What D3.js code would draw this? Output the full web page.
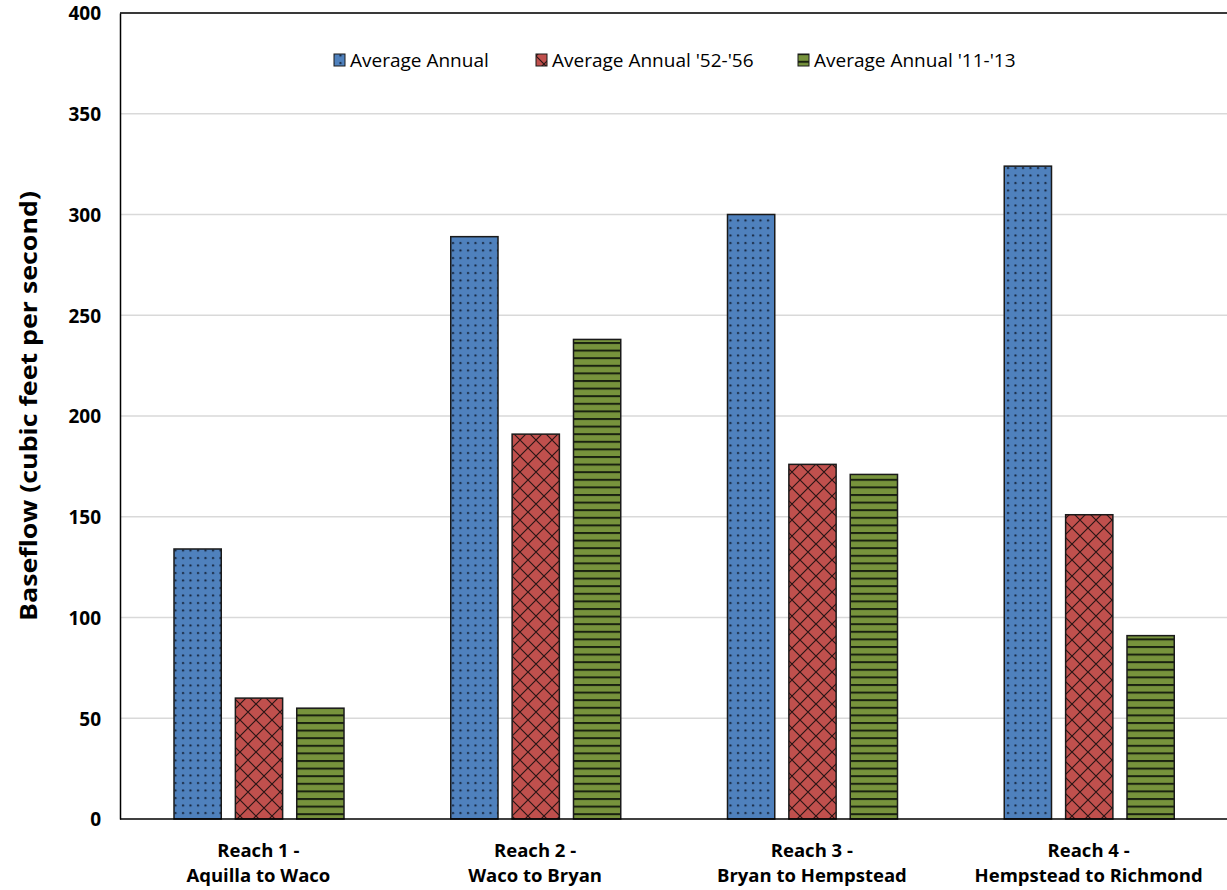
<!DOCTYPE html>
<html><head><meta charset="utf-8">
<script src="https://cdn.jsdelivr.net/npm/d3@7"></script>
<style>body{margin:0;background:#fff}</style>
</head><body>
<svg id="c" width="1227" height="890"></svg>
<script>
const categories = [["Reach 1 -","Aquilla to Waco"],["Reach 2 -","Waco to Bryan"],["Reach 3 -","Bryan to Hempstead"],["Reach 4 -","Hempstead to Richmond"]];
const seriesNames = ["Average Annual","Average Annual '52-'56","Average Annual '11-'13"];
const avgAnnual = [134, 289, 300, 324];
const avg5256 = [60, 191, 176, 151];
const avg1113 = [55, 238, 171, 91];
const yTicks = [0,50,100,150,200,250,300,350,400];

const series = [avgAnnual, avg5256, avg1113];
const colors = ["#4f81bd","#c0504d","#77933c"];
const pats = ["pDots","pCross","pLines"];
const FONT = "'Open Sans', 'Noto Sans', sans-serif";

const svg = d3.select("#c");
const m = {l:120, t:13, r:1227, b:819};
const defs = svg.append("defs");
// dots
const p1 = defs.append("pattern").attr("id","pDots").attr("patternUnits","userSpaceOnUse").attr("width",7.5).attr("height",7.5);
p1.append("rect").attr("width",7.5).attr("height",7.5).attr("fill",colors[0]);
p1.append("circle").attr("cx",3).attr("cy",3).attr("r",1.1).attr("fill","#15243a");
// crosshatch
const p2 = defs.append("pattern").attr("id","pCross").attr("patternUnits","userSpaceOnUse").attr("width",16).attr("height",16);
p2.append("rect").attr("width",16).attr("height",16).attr("fill",colors[1]);
p2.append("path").attr("d","M0,0L16,16M16,0L0,16M-8,8L8,-8M8,24L24,8M-8,8L8,24M8,-8L24,8").attr("stroke","#2a1515").attr("stroke-width",1.2).attr("fill","none");
// horizontal lines
const p3 = defs.append("pattern").attr("id","pLines").attr("patternUnits","userSpaceOnUse").attr("width",10).attr("height",7.6);
p3.append("rect").attr("width",10).attr("height",7.6).attr("fill",colors[2]);
p3.append("rect").attr("y",0).attr("width",10).attr("height",2).attr("fill","#1a2210");

const y = d3.scaleLinear().domain([0,400]).range([m.b,m.t]);
const x0 = d3.scaleBand().domain(d3.range(categories.length)).range([m.l,m.r]).paddingInner(0).paddingOuter(0);
const x1 = d3.scaleBand().domain(d3.range(3)).range([54, 224]).paddingInner(0.23);

// gridlines
svg.append("g").selectAll("line").data(yTicks.filter(v=>v>0)).join("line")
  .attr("x1",m.l).attr("x2",m.r).attr("y1",d=>y(d)).attr("y2",d=>y(d))
  .attr("stroke","#d9d9d9").attr("stroke-width",1.3);

// bars
const g = svg.append("g");
categories.forEach((c,ci)=>{
  series.forEach((s,si)=>{
    g.append("rect")
      .attr("x",x0(ci)+x1(si)).attr("width",x1.bandwidth())
      .attr("y",y(s[ci])).attr("height",y(0)-y(s[ci]))
      .attr("fill",`url(#${pats[si]})`).attr("stroke","#1a1a1a").attr("stroke-width",1.5);
  });
});

// axes
const ya = d3.axisLeft(y).tickValues(yTicks).tickSize(0).tickPadding(19);
const yg = svg.append("g").attr("transform",`translate(${m.l},0)`).call(ya);
yg.select(".domain").attr("stroke","#000").attr("stroke-width",1.5);
yg.selectAll("text").attr("font-family",FONT).attr("font-weight","bold").attr("font-size",19).attr("fill","#000").attr("dy","0.36em");
svg.append("line").attr("x1",m.l).attr("x2",m.r).attr("y1",m.b).attr("y2",m.b).attr("stroke","#000").attr("stroke-width",1.5);
svg.append("line").attr("x1",m.l).attr("x2",m.r).attr("y1",m.t).attr("y2",m.t).attr("stroke","#000").attr("stroke-width",1.5);

// category labels
categories.forEach((c,ci)=>{
  const cx = x0(ci)+x0.bandwidth()/2;
  const t = svg.append("text").attr("x",cx).attr("text-anchor","middle")
    .attr("font-family",FONT).attr("font-weight","bold").attr("font-size",18.5).attr("fill","#000");
  t.append("tspan").attr("x",cx).attr("y",857).text(c[0]);
  t.append("tspan").attr("x",cx).attr("y",882).text(c[1]);
});

// y label
svg.append("text").attr("transform","translate(37,406) rotate(-90)").attr("text-anchor","middle")
  .attr("font-family",FONT).attr("font-weight","bold").attr("font-size",24).attr("fill","#000")
  .attr("textLength",430).attr("lengthAdjust","spacingAndGlyphs")
  .text("Baseflow (cubic feet per second)");

// legend
const lx = [334, 536, 798];
seriesNames.forEach((n,i)=>{
  svg.append("rect").attr("x",lx[i]).attr("y",54).attr("width",11).attr("height",12)
    .attr("fill",`url(#${pats[i]})`).attr("stroke","#1a1a1a").attr("stroke-width",1);
  svg.append("text").attr("x",lx[i]+16).attr("y",67)
    .attr("font-family",FONT).attr("font-size",19).attr("fill","#000").text(n);
});
</script>
</body></html>
